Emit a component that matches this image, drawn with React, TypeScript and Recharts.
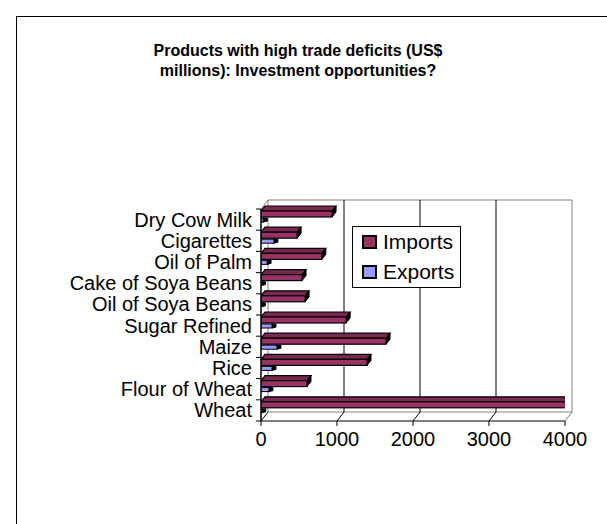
import React from 'react';
import { BarChart, Bar, XAxis, YAxis, CartesianGrid, Legend } from 'recharts';

const categories = [
  'Dry Cow Milk',
  'Cigarettes',
  'Oil of Palm',
  'Cake of Soya Beans',
  'Oil of Soya Beans',
  'Sugar Refined',
  'Maize',
  'Rice',
  'Flour of Wheat',
  'Wheat',
];
const importsValues = [935, 475, 800, 540, 580, 1120, 1645, 1395, 605, 4010];
const exportsValues = [30, 170, 80, 5, 5, 145, 210, 145, 105, 10];
const seriesNames = ['Imports', 'Exports'];
const xTicks = [0, 1000, 2000, 3000, 4000];
const titleLines = ['Products with high trade deficits (US$', 'millions): Investment opportunities?'];

const data = categories.map((name, i) => ({
  name,
  Imports: importsValues[i],
  Exports: exportsValues[i],
}));

const W = 607;
const H = 524;
const PLOT_TOP = 209;
const PLOT_BOTTOM = 421;
const PLOT_LEFT = 261;
const PLOT_RIGHT = 565;
const BAND = (PLOT_BOTTOM - PLOT_TOP) / categories.length;
const BX = 7;
const BY = 9;
const BAR_DX = 4;
const BAR_DY = 5;
const BAR_SHIFT = 3;
const FONT = '"Liberation Sans", Arial, Helvetica, sans-serif';
const IMPORT_COLOR = '#993366';
const EXPORT_COLOR = '#9999FF';

const ImportsShape = (props: any) => {
  const { x, y, width, height, fill } = props;
  if (x == null || y == null || height == null) return <g />;
  const w = Math.max(width || 0, 0);
  const yy = y - BAR_SHIFT;
  return (
    <g>
      <polygon
        points={`${x},${yy} ${x + BAR_DX},${yy - BAR_DY} ${x + w + BAR_DX},${yy - BAR_DY} ${x + w},${yy}`}
        fill="#7a2850"
        stroke="#000"
        strokeWidth={1.2}
      />
      <polygon
        points={`${x + w},${yy} ${x + w + BAR_DX},${yy - BAR_DY} ${x + w + BAR_DX},${yy + height - BAR_DY} ${x + w},${yy + height}`}
        fill="#000"
        stroke="#000"
        strokeWidth={1}
      />
      <rect x={x} y={yy} width={w} height={height} fill={fill} stroke="#000" strokeWidth={1.2} />
    </g>
  );
};

const ExportsShape = (props: any) => {
  const { x, y, width, height, fill } = props;
  if (x == null || y == null || height == null) return <g />;
  const w = Math.max(width || 0, 0);
  const yy = y - BAR_SHIFT;
  return (
    <g>
      <polygon
        points={`${x + w},${yy} ${x + w + BAR_DX},${yy} ${x + w + BAR_DX},${yy + height - 1} ${x + w},${yy + height}`}
        fill="#000"
        stroke="#000"
        strokeWidth={1}
      />
      <rect x={x} y={yy} width={w} height={height} fill={fill} stroke="#000" strokeWidth={1} />
    </g>
  );
};

const CatTick = (props: any) => {
  const { x, y, payload, index } = props;
  const last = index === categories.length - 1;
  return (
    <g>
      <text x={x - 9} y={y} dy="0.35em" textAnchor="end" fontSize={20} fontFamily={FONT} fill="#000">
        {payload.value}
      </text>
      <line x1={x - 5} x2={x} y1={y - BAND / 2} y2={y - BAND / 2} stroke="#000" strokeWidth={1} />
      {last && <line x1={x - 5} x2={x} y1={y + BAND / 2} y2={y + BAND / 2} stroke="#000" strokeWidth={1} />}
    </g>
  );
};

const renderLegend = (props: any) => {
  const payload = [...(props.payload || [])].sort(
    (a: any, b: any) => seriesNames.indexOf(a.value) - seriesNames.indexOf(b.value)
  );
  return (
    <div
      style={{
        boxSizing: 'border-box',
        width: 109,
        height: 62,
        border: '1px solid #000',
        background: '#fff',
        padding: '0 0 0 9px',
        fontFamily: FONT,
        fontSize: 21,
        color: '#000',
      }}
    >
      {payload.map((e: any) => (
        <div key={e.value} style={{ display: 'flex', alignItems: 'center', height: 30 }}>
          <span
            style={{
              display: 'inline-block',
              boxSizing: 'border-box',
              width: 15,
              height: 14,
              background: e.color,
              border: '2px solid #000',
              marginRight: 6,
            }}
          />
          <span style={{ lineHeight: '30px' }}>{e.value}</span>
        </div>
      ))}
    </div>
  );
};

const verticalGrid = (p: any) => {
  const lastIdx = xTicks.length - 1;
  const edge = p.index === 0 || p.index === lastIdx;
  return (
    <g>
      <line
        x1={p.x1 + BX}
        y1={p.y1 - BY}
        x2={p.x2 + BX}
        y2={p.y2 - BY}
        stroke={edge ? '#808080' : '#000'}
        strokeWidth={1}
      />
      <line
        x1={p.x2}
        y1={p.y2}
        x2={p.x2 + BX}
        y2={p.y2 - BY}
        stroke={p.index === lastIdx ? '#808080' : '#000'}
        strokeWidth={1}
      />
    </g>
  );
};

const horizontalGrid = (p: any) => (
  <g>
    <line x1={p.x1 + BX} y1={p.y1 - BY} x2={p.x2 + BX} y2={p.y2 - BY} stroke="#808080" strokeWidth={1} />
    {p.index === 0 && <line x1={p.x1} y1={p.y1} x2={p.x1 + BX} y2={p.y1 - BY} stroke="#808080" strokeWidth={1} />}
  </g>
);

export default function App() {
  return (
    <div
      style={{
        position: 'absolute',
        left: 0,
        top: 0,
        width: W,
        height: H,
        background: '#fff',
        overflow: 'hidden',
      }}
    >
      <div
        style={{
          position: 'absolute',
          left: 16,
          top: 16,
          width: W,
          height: H,
          borderTop: '1.5px solid #000',
          borderLeft: '1.5px solid #000',
        }}
      />
      <div
        style={{
          position: 'absolute',
          left: 98,
          top: 41,
          width: 400,
          textAlign: 'center',
          fontFamily: FONT,
          fontWeight: 'bold',
          fontSize: 16,
          lineHeight: '20px',
          color: '#000',
        }}
      >
        {titleLines.map((t) => (
          <div key={t}>{t}</div>
        ))}
      </div>
      <div style={{ position: 'absolute', left: 0, top: 0 }}>
        <BarChart
          width={W}
          height={H}
          data={data}
          layout="vertical"
          margin={{ top: PLOT_TOP, right: W - PLOT_RIGHT, bottom: H - PLOT_BOTTOM - 30, left: PLOT_LEFT - 100 }}
          barGap={1}
        >
          <CartesianGrid
            fill="none"
            horizontalCoordinatesGenerator={(p: any) => [p.offset.top, p.offset.top + p.offset.height]}
            horizontal={horizontalGrid}
            vertical={verticalGrid}
          />
          <XAxis
            type="number"
            domain={[0, 4000]}
            ticks={xTicks}
            allowDataOverflow
            interval={0}
            height={30}
            tickSize={5}
            tickMargin={6}
            axisLine={{ stroke: '#000', strokeWidth: 1 }}
            tickLine={{ stroke: '#000' }}
            tick={{ fontSize: 20, fontFamily: FONT, fill: '#000' }}
          />
          <YAxis
            type="category"
            dataKey="name"
            width={100}
            interval={0}
            tickSize={0}
            tickMargin={0}
            axisLine={{ stroke: '#000', strokeWidth: 1.5 }}
            tickLine={false}
            tick={CatTick}
          />
          <Legend
            layout="vertical"
            align="center"
            verticalAlign="middle"
            content={renderLegend}
            wrapperStyle={{ left: 352, top: 226, width: 109, height: 62 }}
          />
          <Bar dataKey="Imports" fill={IMPORT_COLOR} barSize={6} shape={ImportsShape} isAnimationActive={false} />
          <Bar dataKey="Exports" fill={EXPORT_COLOR} barSize={4} shape={ExportsShape} isAnimationActive={false} />
        </BarChart>
      </div>
    </div>
  );
}
